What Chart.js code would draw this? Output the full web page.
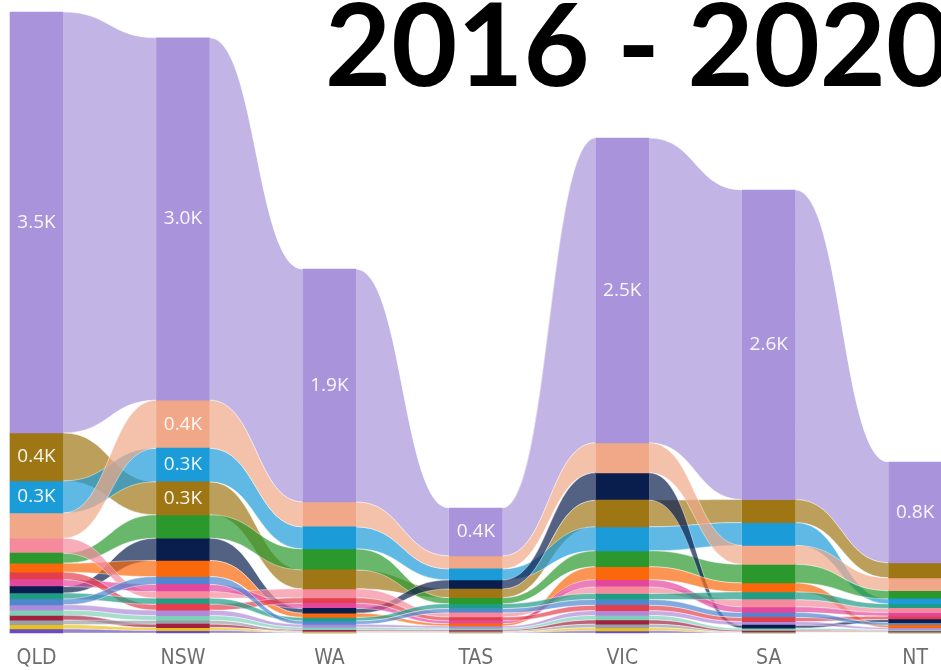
<!DOCTYPE html>
<html>
<head>
<meta charset="utf-8">
<script src="https://cdn.jsdelivr.net/npm/chart.js@4.4.1/dist/chart.umd.min.js"></script>
<style>
  html, body { margin: 0; padding: 0; background: #fff; }
</style>
</head>
<body>
<canvas id="chart" width="941" height="670"></canvas>
<script>
const states = ["QLD", "NSW", "WA", "TAS", "VIC", "SA", "NT"];

// one array per ribbon, values per state
const lavender = [3508, 3020, 1940, 400, 2540, 2580, 840];
const olive    = [400, 275, 158, 73, 222, 192, 125];
const blue     = [267, 280, 183, 92, 200, 190, 42];
const peach    = [210, 400, 208, 108, 250, 158, 108];
const green    = [83, 195, 175, 50, 133, 155, 67];
const navy     = [54, 185, 40, 75, 228, 25, 25];
const orange   = [75, 135, 35, 20, 108, 75, 20];
const pink     = [125, 55, 75, 35, 55, 60, 35];
const magenta  = [58, 60, 43, 25, 60, 48, 30];
const red      = [62, 50, 45, 30, 45, 35, 28];
const teal     = [50, 50, 30, 40, 50, 64, 38];
const skyBlue  = [48, 65, 28, 36, 48, 40, 22];
const violet   = [45, 45, 24, 18, 40, 30, 15];
const mint     = [43, 40, 20, 15, 38, 18, 12];
const maroon   = [40, 30, 12, 10, 35, 12, 8];
const grey     = [38, 30, 8, 8, 30, 6, 6];
const gold     = [36, 25, 5, 5, 25, 3, 3];
const indigo   = [33, 20, 3, 2, 18, 1, 1];

const series = [
  { values: lavender, color: "#A994DC" },
  { values: olive,    color: "#9E7614" },
  { values: blue,     color: "#1B9BD8" },
  { values: peach,    color: "#F0A888" },
  { values: green,    color: "#2A982C" },
  { values: navy,     color: "#0A1E4E" },
  { values: orange,   color: "#FB680C" },
  { values: pink,     color: "#F58A9C" },
  { values: magenta,  color: "#E2479E" },
  { values: red,      color: "#E43E4C" },
  { values: teal,     color: "#1E9C84" },
  { values: skyBlue,  color: "#4F86D0" },
  { values: violet,   color: "#B08ADA" },
  { values: mint,     color: "#7FD0B6" },
  { values: maroon,   color: "#A3213E" },
  { values: grey,     color: "#9AA0A8" },
  { values: gold,     color: "#E8C21A" },
  { values: indigo,   color: "#6A4CC0" },
];

// rank inside every state: biggest ends up on top
function stackRanges() {
  const ranges = series.map(() => []);
  states.forEach((_, i) => {
    const order = series.map((_, k) => k)
      .sort((a, b) => series[a].values[i] - series[b].values[i]);
    let base = 0;
    order.forEach(k => {
      const v = series[k].values[i];
      ranges[k][i] = [base, base + v];
      base += v;
    });
  });
  return ranges;
}

function fade(hex, a) {
  const n = parseInt(hex.slice(1), 16);
  return `rgba(${n >> 16},${(n >> 8) & 255},${n & 255},${a})`;
}

const ribbons = {
  id: "ribbons",
  beforeDatasetsDraw(chart) {
    const { ctx } = chart;
    const y = chart.scales.y;
    ctx.save();
    chart.data.datasets.forEach((ds, d) => {
      const bars = chart.getDatasetMeta(d).data;
      ctx.fillStyle = fade(ds.backgroundColor, 0.7);
      ctx.strokeStyle = "rgba(255,255,255,0.55)";
      ctx.lineWidth = 0.8;
      for (let i = 0; i < bars.length - 1; i++) {
        const a = bars[i], b = bars[i + 1];
        const x0 = a.x + a.width / 2, x1 = b.x - b.width / 2, xm = (x0 + x1) / 2;
        const t0 = y.getPixelForValue(ds.data[i][1]), b0 = y.getPixelForValue(ds.data[i][0]);
        const t1 = y.getPixelForValue(ds.data[i + 1][1]), b1 = y.getPixelForValue(ds.data[i + 1][0]);
        ctx.beginPath();
        ctx.moveTo(x0, t0);
        ctx.bezierCurveTo(xm, t0, xm, t1, x1, t1);
        ctx.lineTo(x1, b1);
        ctx.bezierCurveTo(xm, b1, xm, b0, x0, b0);
        ctx.closePath();
        ctx.fill();
        ctx.stroke();
      }
    });
    ctx.restore();
  },
};

const barLabels = {
  id: "barLabels",
  afterDatasetsDraw(chart) {
    const { ctx } = chart;
    const y = chart.scales.y;
    ctx.save();
    ctx.font = "19px 'Open Sans', sans-serif";
    ctx.fillStyle = "rgba(255,255,255,0.92)";
    ctx.textAlign = "center";
    ctx.textBaseline = "middle";
    chart.data.datasets.forEach((ds, d) => {
      chart.getDatasetMeta(d).data.forEach((bar, i) => {
        const [lo, hi] = ds.data[i];
        const v = hi - lo;
        if (v < 260) return;
        const mid = (y.getPixelForValue(lo) + y.getPixelForValue(hi)) / 2;
        ctx.fillText((v / 1000).toFixed(1) + "K", bar.x, mid);
      });
    });
    ctx.restore();
  },
};

const bigTitle = {
  id: "bigTitle",
  afterDraw(chart) {
    const { ctx } = chart;
    ctx.save();
    ctx.font = "bold 114px Lato, 'Open Sans', sans-serif";
    ctx.fillStyle = "#000";
    ctx.textAlign = "right";
    ctx.textBaseline = "alphabetic";
    ctx.fillText("2016 - 2020", 952, 86);
    ctx.restore();
  },
};

const ranges = stackRanges();

new Chart(document.getElementById("chart"), {
  type: "bar",
  data: {
    labels: states,
    datasets: series.map((s, k) => ({
      data: ranges[k],
      backgroundColor: s.color,
      borderWidth: 0,
      grouped: false,
      barThickness: 53,
      clip: false,
    })),
  },
  options: {
    responsive: false,
    animation: false,
    layout: { padding: { left: 36.5, right: 19.5, top: 0, bottom: 0 } },
    plugins: {
      legend: { display: false },
      tooltip: { enabled: false },
    },
    scales: {
      x: {
        offset: false,
        grid: { display: false, drawTicks: false },
        border: { display: false },
        ticks: {
          color: "#6e6e6e",
          font: { family: "'Liberation Sans Narrow', 'DejaVu Sans Condensed', 'Open Sans', sans-serif", size: 21 },
          padding: 13,
          maxRotation: 0,
          autoSkip: false,
        },
        afterFit: (scale) => { scale.height = 37; },
      },
      y: {
        display: false,
        min: 0,
        max: 5275,
      },
    },
  },
  plugins: [ribbons, barLabels, bigTitle],
});
</script>
</body>
</html>
